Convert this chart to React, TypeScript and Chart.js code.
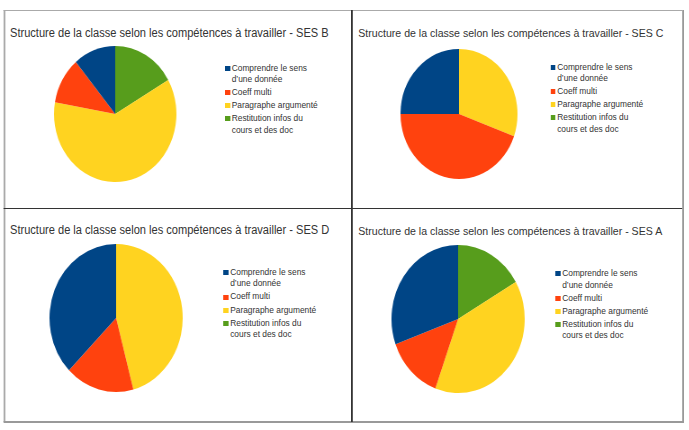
import React, { useEffect, useRef } from "react";
import { Chart, registerables } from "chart.js";

Chart.register(...registerables);

// ---- data ----
const categories: string[][] = [
  ["Comprendre le sens", "d’une donnée"],
  ["Coeff multi"],
  ["Paragraphe argumenté"],
  ["Restitution infos du", "cours et des doc"],
];
const sliceColors = ["#004586", "#ff420e", "#ffd320", "#579d1c"];
const titlePrefix = "Structure de la classe selon les compétences à travailler - ";
const panelNames = ["SES B", "SES C", "SES D", "SES A"];
const sesB = [2, 2, 11, 3];
const sesC = [9, 16, 11, 0];
const sesD = [9, 4, 11, 0];
const sesA = [11, 5, 14, 6];
const panelValues = [sesB, sesC, sesD, sesA];

// ---- layout (page px) ----
const SX = 0.9; // horizontal squeeze of the original screenshot
const layouts = [
  { titleX: 10, titleY: 33, titleSize: 12.3, cx: 115.5, cy: 114, r: 68, legX: 225, legY: 68.3 },
  { titleX: 358.3, titleY: 33.3, titleSize: 11.75, cx: 458.8, cy: 114, r: 65, legX: 550.5, legY: 67.3 },
  { titleX: 10, titleY: 230, titleSize: 12.3, cx: 116, cy: 318.3, r: 74, legX: 223.5, legY: 272.7 },
  { titleX: 358.3, titleY: 231, titleSize: 11.75, cx: 458.3, cy: 319.2, r: 74, legX: 555.5, legY: 274 },
];
const FONT = "'Liberation Sans', Arial, sans-serif";
const TEXT = "#333333";

function Pie({ values, cx, cy, r }: { values: number[]; cx: number; cy: number; r: number }) {
  const ref = useRef<HTMLCanvasElement>(null);
  useEffect(() => {
    // LibreOffice draws slices counter-clockwise from 12 o'clock: reverse order for Chart.js
    const data = [...values].reverse();
    const colors = [...sliceColors].reverse();
    const labels = categories.map((c) => c.join(" ")).reverse();
    const chart = new Chart(ref.current!, {
      type: "pie",
      data: {
        labels,
        datasets: [
          { data, backgroundColor: colors, borderWidth: 0, hoverOffset: 0, offset: 0, radius: r } as any,
        ],
      },
      options: {
        responsive: false,
        animation: false,
        events: [],
        layout: { padding: 0 },
        plugins: {
          legend: { display: false },
          tooltip: { enabled: false },
          title: { display: false },
        },
      } as any,
    });
    return () => chart.destroy();
  }, []);
  const size = Math.ceil(2 * r + 6);
  return (
    <canvas
      ref={ref}
      width={size}
      height={size}
      style={{
        position: "absolute",
        left: cx / SX - size / 2,
        top: cy - size / 2,
        width: size,
        height: size,
      }}
    />
  );
}

function Legend({ x, y }: { x: number; y: number }) {
  const lh = 11.3;
  const gap = 1.8;
  let cursor = y - lh / 2;
  const items = categories.map((lines, i) => {
    const top = cursor;
    cursor += lines.length * lh + gap;
    return (
      <div key={i} style={{ position: "absolute", left: x / SX, top, whiteSpace: "nowrap" }}>
        <div
          style={{
            position: "absolute",
            left: 0,
            top: (lh - 5) / 2,
            width: 5 / SX,
            height: 5,
            background: sliceColors[i],
          }}
        />
        <div
          style={{
            position: "absolute",
            left: 6.7 / SX,
            top: 0,
            fontFamily: FONT,
            fontSize: 9.3,
            lineHeight: lh + "px",
            color: TEXT,
          }}
        >
          {lines.map((l, k) => (
            <div key={k}>{l}</div>
          ))}
        </div>
      </div>
    );
  });
  return <>{items}</>;
}

function Line({ x, y, w, h, c }: { x: number; y: number; w: number; h: number; c: string }) {
  return <div style={{ position: "absolute", left: x / SX, top: y, width: w / SX, height: h, background: c }} />;
}

export default function App() {
  return (
    <div
      style={{
        position: "absolute",
        left: 0,
        top: 0,
        width: 689 / SX,
        height: 430,
        background: "#ffffff",
        transform: `scaleX(${SX})`,
        transformOrigin: "0 0",
        overflow: "hidden",
      }}
    >
      {/* frame */}
      <Line x={4} y={10} w={678} h={1} c="#aaaaaa" />
      <Line x={4} y={10} w={1} h={412} c="#aaaaaa" />
      <Line x={682} y={10} w={2} h={413} c="#999999" />
      <Line x={4} y={421} w={680} h={2} c="#999999" />
      <Line x={351} y={10} w={1.5} h={412} c="#333333" />
      <Line x={4} y={207.5} w={678} h={1.5} c="#333333" />
      {layouts.map((L, i) => (
        <React.Fragment key={i}>
          <div
            style={{
              position: "absolute",
              left: L.titleX / SX,
              top: L.titleY - 7,
              fontFamily: FONT,
              fontSize: L.titleSize,
              lineHeight: "14px",
              color: TEXT,
              whiteSpace: "nowrap",
            }}
          >
            {titlePrefix + panelNames[i]}
          </div>
          <Pie values={panelValues[i]} cx={L.cx} cy={L.cy} r={L.r} />
          <Legend x={L.legX} y={L.legY} />
        </React.Fragment>
      ))}
    </div>
  );
}
